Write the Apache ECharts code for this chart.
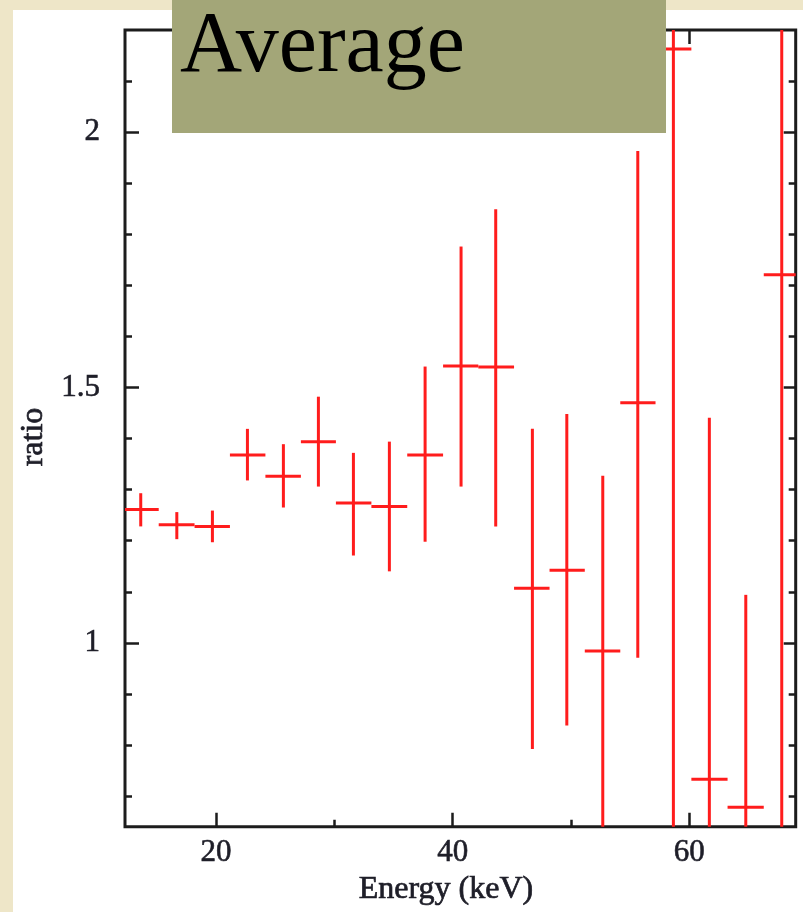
<!DOCTYPE html>
<html>
<head>
<meta charset="utf-8">
<script src="https://cdn.jsdelivr.net/npm/echarts@6/dist/echarts.min.js"></script>
<style>
  html, body { margin: 0; padding: 0; background: #eee6c8; }
  #sheet { position: absolute; left: 13px; top: 10px; width: 790px; height: 902px; background: #ffffff; }
  #chart { position: absolute; left: 0; top: 0; width: 803px; height: 912px; }
</style>
</head>
<body>
<div id="sheet"></div>
<div id="chart"></div>
<script>
// Data/model ratio per energy bin (keV)
const energy = [13.63, 16.68, 19.69, 22.65, 25.69, 28.65, 31.61, 34.65, 37.67, 40.71,
                43.64, 46.74, 49.65, 52.69, 55.65, 58.66, 61.70, 64.78, 67.82];
const binLo  = [12.12, 15.15, 18.18, 21.17, 24.17, 27.17, 30.13, 33.13, 36.16, 39.19,
                42.17, 45.19, 48.19, 51.17, 54.17, 57.15, 60.18, 63.24, 66.30];
const binHi  = [15.15, 18.18, 21.17, 24.17, 27.17, 30.13, 33.13, 36.16, 39.19, 42.17,
                45.19, 48.19, 51.17, 54.17, 57.15, 60.18, 63.24, 66.30, 69.34];
const ratio  = [1.261, 1.231, 1.228, 1.368, 1.326, 1.394, 1.274, 1.267, 1.368, 1.542,
                1.540, 1.107, 1.142, 0.984, 1.470, 2.163, 0.733, 0.678, 1.721];
const errLo  = [1.228, 1.203, 1.197, 1.318, 1.265, 1.306, 1.171, 1.140, 1.198, 1.306,
                1.228, 0.792, 0.838, 0.550, 0.971, 0.300, 0.300, 0.300, 0.500];
const errHi  = [1.293, 1.256, 1.259, 1.419, 1.389, 1.482, 1.372, 1.394, 1.541, 1.776,
                1.849, 1.419, 1.448, 1.327, 1.963, 3.000, 1.441, 1.094, 3.000];

// Axis ranges and tick marks
const xRange = [12.3, 69.0];
const yRange = [0.64, 2.2];
const xMajor = [20, 40, 60];
const xMinor = [30, 50];
const yMajor = [1, 1.5, 2];
const yMinor = [0.7, 0.8, 0.9, 1.1, 1.2, 1.3, 1.4, 1.6, 1.7, 1.8, 1.9, 2.1];

const titleText = 'Average';
const xName = 'Energy (keV)';
const yName = 'ratio';

const ink = '#1c1c1c';
const textInk = '#1e1e28';
const labelFont = '"Liberation Serif", serif';

function xAxisDef(position, ticks, len, withLabels) {
  return {
    type: 'value', gridIndex: 0, position: position,
    min: xRange[0], max: xRange[1],
    axisLine: { show: false },
    splitLine: { show: false },
    axisTick: { show: true, inside: true, length: len, customValues: ticks,
                lineStyle: { color: ink, width: 2.5 } },
    axisLabel: withLabels
      ? { show: true, customValues: ticks, margin: 11, color: textInk,
          fontFamily: labelFont, fontSize: 31,
          textBorderColor: textInk, textBorderWidth: 0.6 }
      : { show: false }
  };
}
function yAxisDef(position, ticks, len, withLabels) {
  return {
    type: 'value', gridIndex: 0, position: position,
    min: yRange[0], max: yRange[1],
    axisLine: { show: false },
    splitLine: { show: false },
    axisTick: { show: true, inside: true, length: len, customValues: ticks,
                lineStyle: { color: ink, width: 2.5 } },
    axisLabel: withLabels
      ? { show: true, customValues: ticks, margin: 25, color: textInk,
          fontFamily: labelFont, fontSize: 31,
          textBorderColor: textInk, textBorderWidth: 0.6 }
      : { show: false }
  };
}

const rows = energy.map((e, i) => [e, ratio[i], binLo[i], binHi[i], errLo[i], errHi[i]]);

const chart = echarts.init(document.getElementById('chart'), null, { renderer: 'canvas' });
chart.setOption({
  backgroundColor: 'transparent',
  animation: false,
  grid: {
    left: 125, top: 30, width: 670.7, height: 796.7,
    show: true, borderColor: ink, borderWidth: 3, backgroundColor: 'transparent'
  },
  xAxis: [
    xAxisDef('bottom', xMajor, 14, true),
    xAxisDef('bottom', xMinor, 7, false),
    xAxisDef('top', xMajor, 14, false),
    xAxisDef('top', xMinor, 7, false)
  ],
  yAxis: [
    yAxisDef('left', yMajor, 14, true),
    yAxisDef('left', yMinor, 7, false),
    yAxisDef('right', yMajor, 12, false),
    yAxisDef('right', yMinor, 7, false)
  ],
  series: [{
    type: 'custom',
    xAxisIndex: 0, yAxisIndex: 0,
    data: rows,
    renderItem: function (params, api) {
      const cs = params.coordSys;
      const cx = v => Math.max(cs.x, Math.min(cs.x + cs.width, v));
      const cy = v => Math.max(cs.y, Math.min(cs.y + cs.height, v));
      const c = api.coord([api.value(0), api.value(1)]);
      const l = api.coord([api.value(2), api.value(1)]);
      const r = api.coord([api.value(3), api.value(1)]);
      const lo = api.coord([api.value(0), api.value(4)]);
      const hi = api.coord([api.value(0), api.value(5)]);
      const st = { stroke: '#ff1c1c', lineWidth: 3, lineCap: 'butt' };
      return {
        type: 'group',
        children: [
          { type: 'line', shape: { x1: cx(l[0]), y1: c[1], x2: cx(r[0]), y2: c[1] }, style: st },
          { type: 'line', shape: { x1: c[0], y1: cy(lo[1]), x2: c[0], y2: cy(hi[1]) }, style: st }
        ]
      };
    }
  }],
  graphic: [
    { type: 'text', z: 50, x: 446, y: 890,
      style: { text: xName, fill: textInk, fontFamily: labelFont, fontSize: 32,
               stroke: textInk, lineWidth: 0.7,
               align: 'center', verticalAlign: 'middle' } },
    { type: 'text', z: 50, x: 34, y: 437, rotation: Math.PI / 2,
      style: { text: yName, fill: textInk, fontFamily: labelFont, fontSize: 32,
               stroke: textInk, lineWidth: 0.7,
               align: 'center', verticalAlign: 'middle' } },
    { type: 'rect', z: 100, shape: { x: 172, y: 0, width: 494, height: 133 },
      style: { fill: '#a3a678' } },
    { type: 'text', z: 101, x: 180, y: 48,
      style: { text: titleText, fill: '#000000', fontFamily: labelFont, fontSize: 86,
               align: 'left', verticalAlign: 'middle' } }
  ]
});
</script>
</body>
</html>
